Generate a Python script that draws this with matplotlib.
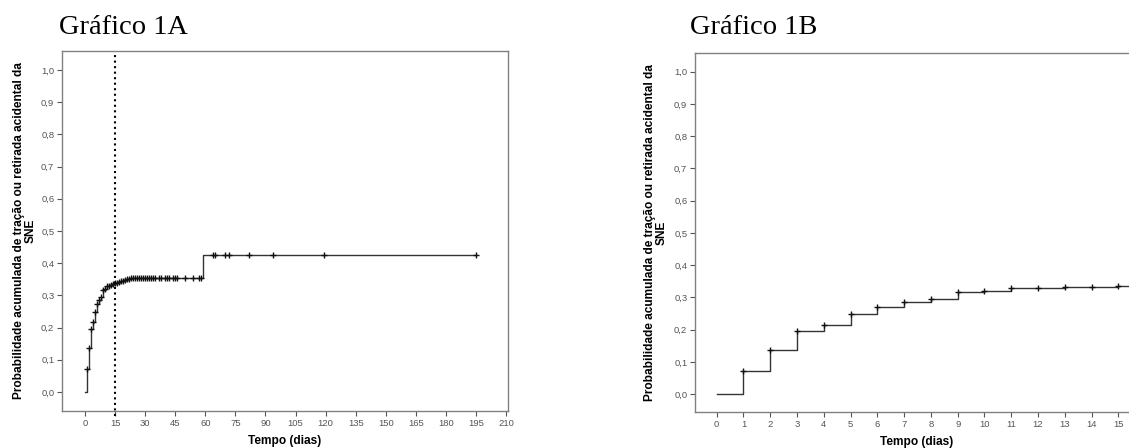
import matplotlib.pyplot as plt
import numpy as np

# Gráfico 1A - curva acumulada (dias 0-195)
tempo_a = [0, 1, 2, 3, 4, 5, 6, 7, 8, 9, 10, 11, 12, 13, 14, 15, 16, 17, 18,
           19, 20, 21, 22, 23, 59, 195]
prob_a = [0.0, 0.072, 0.137, 0.195, 0.216, 0.250, 0.272, 0.285, 0.295, 0.316,
          0.319, 0.328, 0.330, 0.332, 0.334, 0.337, 0.340, 0.342, 0.344,
          0.346, 0.348, 0.350, 0.352, 0.355, 0.425, 0.425]
# marcas de censura (+)
censura_a = [1, 2, 3, 4, 5, 6, 7, 8, 9, 10, 11, 12, 13, 14, 15, 16, 17, 18, 19,
             20, 21, 22, 23, 24, 25, 26, 27, 28, 29, 30, 31, 32, 33, 34, 35, 37,
             38, 40, 41, 42, 44, 45, 46, 50, 54, 57, 58, 64, 65, 70, 72, 82, 94,
             119, 195]
dia_ref = 15

# Gráfico 1B - primeiros 15 dias
tempo_b = [0, 1, 2, 3, 4, 5, 6, 7, 8, 9, 10, 11, 12, 13, 14, 15, 16]
prob_b = [0.0, 0.072, 0.137, 0.195, 0.216, 0.250, 0.272, 0.285, 0.295, 0.316,
          0.319, 0.328, 0.330, 0.332, 0.334, 0.337, 0.337]
censura_b = [1, 2, 3, 4, 5, 6, 7, 8, 9, 10, 11, 12, 13, 14, 15]

ylabel = 'Probabilidade acumulada de tração ou retirada acidental da\nSNE'
yticks = np.arange(0, 1.01, 0.1)
ytick_labels = [f'{v:.1f}'.replace('.', ',') for v in yticks]

plt.rcParams['font.family'] = ['Liberation Sans', 'DejaVu Sans']

fig = plt.figure(figsize=(11.29, 4.48), dpi=100)
ax1 = fig.add_axes([62 / 1129, 37 / 448, 446 / 1129, 360 / 448])
ax2 = fig.add_axes([695 / 1129, 36 / 448, 444 / 1129, 359 / 448])


def valor_em(t, tempos, probs):
    idx = np.searchsorted(tempos, t, side='right') - 1
    return probs[idx]


def estilo(ax, ylab_x, h_px):
    for s in ax.spines.values():
        s.set_color('#808080')
        s.set_linewidth(1.0)
    ax.set_yticks(yticks)
    ax.set_yticklabels(ytick_labels)
    ax.tick_params(axis='both', which='both', length=3.5, width=0.8,
                   color='#555555', labelcolor='#555555', labelsize=6.8,
                   direction='out', pad=2, top=False, right=False)
    ax.set_ylabel(ylabel, fontsize=8.6, fontweight='bold', linespacing=1.0)
    ax.yaxis.set_label_coords(ylab_x, 0.5)
    ax.set_xlabel('Tempo (dias)', fontsize=8.6, fontweight='bold')
    ax.xaxis.set_label_coords(0.5, -24 / h_px)


# --- 1A ---
ax1.step(tempo_a, prob_a, where='post', color='#333333', linewidth=1.0)
cens_y = [valor_em(t, tempo_a, prob_a) for t in censura_a]
ax1.plot(censura_a, cens_y, linestyle='none', marker='+', color='#111111',
         markersize=4, markeredgewidth=1.0)
ax1.plot([dia_ref, dia_ref], [-0.075, 1.06], color='black', linestyle=':',
         linewidth=1.5, clip_on=False)
ax1.set_xlim(-11.5, 211)
ax1.set_ylim(-0.059, 1.059)
ax1.set_xticks(range(0, 211, 15))
estilo(ax1, -25 / 446, 360)

# --- 1B ---
ax2.step(tempo_b, prob_b, where='post', color='#333333', linewidth=1.0)
cens_yb = [valor_em(t, tempo_b, prob_b) for t in censura_b]
ax2.plot(censura_b, cens_yb, linestyle='none', marker='+', color='#111111',
         markersize=4, markeredgewidth=1.0)
ax2.set_xlim(-0.81, 15.77)
ax2.set_ylim(-0.055, 1.058)
ax2.set_xticks(range(0, 16))
estilo(ax2, -27 / 444, 359)

fig.text(59 / 1129, 1 - 34 / 448, 'Gráfico 1A', fontsize=20.5,
         family=['Liberation Serif', 'DejaVu Serif'], ha='left', va='baseline')
fig.text(690 / 1129, 1 - 34 / 448, 'Gráfico 1B', fontsize=20.5,
         family=['Liberation Serif', 'DejaVu Serif'], ha='left', va='baseline')

fig.savefig('out.png', dpi=100)
